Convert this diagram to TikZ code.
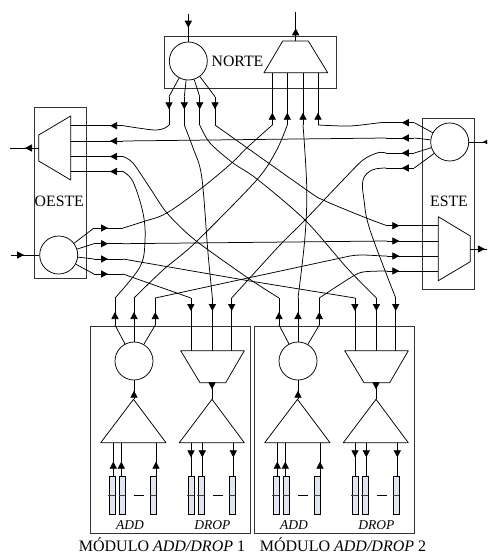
\documentclass[tikz,border=0pt]{standalone}
\usepackage{fontspec}
\setmainfont{Liberation Serif}
\usetikzlibrary{arrows.meta,decorations.markings}
\definecolor{barfill}{HTML}{DFE6F0}
\tikzset{
  wire/.style={draw=black,line width=0.75pt,line join=round},
  box/.style={draw=black!80,line width=0.9pt},
  ring/.style={draw=black,line width=0.75pt,circle,minimum size=38pt,inner sep=0pt,fill=white},
  arr/.style={wire,postaction={decorate},decoration={markings,mark=at position #1pt with {\arrow{Triangle[length=7pt,width=7.2pt]}}}},
  lab/.style={inner sep=0pt,font=\fontsize{15.8}{16}\selectfont},
  sublab/.style={inner sep=0pt,font=\fontsize{13.5}{14}\selectfont\itshape},
  captxt/.style={inner sep=0pt,font=\fontsize{16}{17}\selectfont},
  barbox/.style={draw=black,line width=0.7pt,fill=barfill,minimum width=6pt,minimum height=37.3pt,inner sep=0pt},
  cw/.style={wire}
}
\newcommand{\admodule}[2]{%
\begin{scope}[xshift=#2pt]
  \draw[box] (90,326) rectangle (250.7,533.3);
  \node[ring] (m#1c) at (134,361) {};
  \draw[wire] (180.7,350.7) -- (244.3,350.7) -- (225.7,382.7) -- (200,382.7) -- cycle;
  \draw[wire] (133.5,399.3) -- (166,442.7) -- (100.7,442.7) -- cycle;
  \draw[wire] (212,399.3) -- (244.3,442.7) -- (179.3,442.7) -- cycle;
  \coordinate (m#1ap) at (134,399.3);
  \coordinate (m#1muxb) at (212,382.7);
  \coordinate (m#1apb) at (212,399.3);
  \draw[arr=8.6] (m#1ap) -- (m#1c);
  \draw[arr=6.6] (m#1muxb) -- (m#1apb);
  % circle outputs
  \coordinate (m#1o1a) at (115,325);   \coordinate (m#1o1) at (115,298);
  \coordinate (m#1o2a) at (134,325);   \coordinate (m#1o2) at (134,298);
  \coordinate (m#1o3a) at (155.3,325); \coordinate (m#1o3) at (155.3,298);
  \draw[wire] (m#1c) -- (m#1o1a);
  \draw[wire] (m#1c) -- (m#1o2a);
  \draw[wire] (m#1c) -- (m#1o3a);
  \draw[arr=13] (m#1o1a) -- (m#1o1);
  \draw[arr=13] (m#1o2a) -- (m#1o2);
  \draw[arr=13] (m#1o3a) -- (m#1o3);
  % drop mux inputs
  \coordinate (m#1d1) at (190.9,298); \coordinate (m#1d1b) at (190.9,350.7);
  \coordinate (m#1d2) at (212.4,298); \coordinate (m#1d2b) at (212.4,350.7);
  \coordinate (m#1d3) at (231.7,298); \coordinate (m#1d3b) at (231.7,350.7);
  \draw[arr=13] (m#1d1) -- (m#1d1b);
  \draw[arr=13] (m#1d2) -- (m#1d2b);
  \draw[arr=13] (m#1d3) -- (m#1d3b);
  % transponder bars
  \foreach \n/\cx in {a/112.3,b/122.7,c/153.7,d/191.3,e/201.3,f/232.7}{
    \node[barbox] (m#1\n) at (\cx,495.4) {};
    \draw[line width=0.9pt,black!75] (\cx-4.2,495.7) -- (\cx+2.5,495.7);
  }
  \draw[arr=15] (113.3,476.7) -- (113.3,442.7);
  \draw[arr=15] (121.3,476.7) -- (121.3,442.7);
  \draw[arr=15] (156,476.7) -- (156,442.7);
  \draw[arr=14.6] (191,442.7) -- (191,476.7);
  \draw[arr=14.6] (202.3,442.7) -- (202.3,476.7);
  \draw[arr=14.6] (233.3,442.7) -- (233.3,476.7);
  \draw[wire] (134.3,495.7) -- (143.7,495.7);
  \draw[wire] (213.3,495.7) -- (222.7,495.7);
  \node[sublab] (m#1add) at (130,525) {ADD};
  \node[sublab] (m#1drop) at (212.3,525) {DROP};
\end{scope}}
\begin{document}
\begin{tikzpicture}[x=1pt,y=-1pt]
\useasboundingbox (0,0) rectangle (487,553);
\clip (0,0) rectangle (487,553);
% ---- boxes
\draw[box] (164.3,36.7) rectangle (336.7,88.3);
\draw[box] (34.3,107.3) rectangle (86.3,278.7);
\draw[box] (422.3,118.3) rectangle (474.7,289);
% ---- circles
\node[ring] (nc) at (188.3,61) {};
\node[ring] (wc) at (58.7,255) {};
\node[ring] (ec) at (449.7,142) {};
% ---- muxes
\draw[wire] (282.7,41) -- (308.3,41) -- (327.7,72.7) -- (264,72.7) -- cycle;
\draw[wire] (70.7,116) -- (70.7,180) -- (38.7,161) -- (38.7,135) -- cycle;
\draw[wire] (438.3,216.7) -- (470.3,236) -- (470.3,261.7) -- (438.3,280.7) -- cycle;
% ---- labels
\node[lab] (lnorte) at (237.5,61) {NORTE};
\node[lab] (loeste) at (59.3,201.7) {OESTE};
\node[lab] (leste) at (449,201.7) {ESTE};
\node[captxt] (c1) at (162,544.4) {MÓDULO \textit{ADD/DROP} 1};
\node[captxt] (c2) at (343,544.4) {MÓDULO \textit{ADD/DROP} 2};
% ---- external I/O
\coordinate (ntop) at (188.3,14);
\coordinate (nmt) at (295.7,41); \coordinate (nmo) at (295.7,12);
\coordinate (wmo) at (38.7,148); \coordinate (wout) at (10,148);
\coordinate (win) at (11,255);
\coordinate (eout) at (497,142);
\coordinate (emo) at (470.3,249); \coordinate (eoe) at (494,249);
\draw[arr=13.7] (ntop) -- (nc);
\draw[arr=12.7] (nmt) -- (nmo);
\draw[arr=13.7] (wmo) -- (wout);
\draw[arr=13] (win) -- (wc);
\draw[arr=14] (eout) -- (ec);
\draw[arr=14.5] (emo) -- (eoe);
% ---- north ports
\foreach \i/\x in {1/169,2/184.3,3/199.7,4/215}{
  \coordinate (no\i a) at (\x,96.7);
  \coordinate (no\i) at (\x,125);
  \draw[wire] (nc) -- (no\i a);
  \draw[arr=12.6] (no\i a) -- (no\i);
}
\foreach \i/\x in {1/272.3,2/287.3,3/303,4/318}{
  \coordinate (ni\i) at (\x,125);
  \coordinate (ni\i b) at (\x,72.7);
  \draw[arr=12.3] (ni\i) -- (ni\i b);
}
% ---- west ports
\foreach \i/\y in {1/125.7,2/141,3/156.5,4/171.5}{
  \coordinate (wi\i) at (123,\y);
  \coordinate (wi\i b) at (70.7,\y);
  \draw[arr=13] (wi\i) -- (wi\i b);
}
\foreach \i/\y in {1/228,2/243.7,3/259,4/274}{
  \coordinate (wo\i a) at (94,\y);
  \coordinate (wo\i) at (123,\y);
  \draw[wire] (wc) -- (wo\i a);
  \draw[arr=14] (wo\i a) -- (wo\i);
}
% ---- east ports
\foreach \i/\y in {1/122.7,2/138,3/153,4/168}{
  \coordinate (eo\i a) at (414.3,\y);
  \coordinate (eo\i) at (386,\y);
  \draw[wire] (ec) -- (eo\i a);
  \draw[arr=12.5] (eo\i a) -- (eo\i);
}
\foreach \i/\y in {1/225.7,2/241,3/256,4/271}{
  \coordinate (ei\i) at (387,\y);
  \coordinate (ei\i b) at (438.3,\y);
  \draw[arr=12.3] (ei\i) -- (ei\i b);
}
% ---- add/drop modules
\admodule{1}{0}
\admodule{2}{164}
% ---- interconnect
\draw[cw] plot[smooth,tension=.55] coordinates {(no1) (165,128) (157,130) (145,129) (wi1)};
\draw[cw] (eo2) -- (wi2);
\draw[cw] (wo2) -- (ei2);
\draw[cw] plot[smooth,tension=.55] coordinates {(no2) (193,148) (201.7,176.7) (208,253) (m1d2)};
\draw[cw] plot[smooth,tension=.5] coordinates {(no3) (210,143) (233,163) (257,179) (305,220) (347,268) (m2d2)};
\draw[cw] plot[smooth,tension=.5] coordinates {(no4) (306.7,190) (323,200) (363,216.7) (ei1)};
\draw[cw] plot[smooth,tension=.6] coordinates {(ni1) (246.7,148) (231.7,163) (201.7,188) (166.7,213) (143,221.7) (wo1)};
\draw[cw] plot[smooth,tension=.5] coordinates {(ni2) (276.7,150) (256.7,180) (195,243) (163,270) (m1o2)};
\draw[cw] plot[smooth,tension=.6] coordinates {(ni3) (306.7,186.7) (305,236.7) (m2o2)};
\draw[cw] plot[smooth,tension=.5] coordinates {(ni4) (350,126) (380,122.7) (eo1)};
\draw[cw] plot[smooth,tension=.5] coordinates {(eo3) (378,152.7) (363,160) (343,180) (305,220) (280,245) (248,280) (m1d3)};
\draw[cw] plot[smooth,tension=.6] coordinates {(eo4) (372,170) (363,180) (364,200) (370,230) (m2d3)};
\draw[cw] plot[smooth,tension=.5] coordinates {(wi3) (133,163) (150,188) (167,213) (195,240) (248,278) (m2o1)};
\draw[cw] plot[smooth,tension=.6] coordinates {(wi4) (133,181.7) (143,213) (145,240) (140,266.7) (m1o1)};
\draw[cw] (wo3) -- (250,281) -- (m2d1);
\draw[cw] (wo4) -- (m1d1);
\coordinate (crossa) at (350,256);
\draw[cw] (m1o3) -- (crossa) .. controls (362,253.8) and (375,256) .. (ei3);
\draw[cw] plot[smooth,tension=.5] coordinates {(m2o3) (350,278) (363,272) (ei4)};
\end{tikzpicture}
\end{document}
